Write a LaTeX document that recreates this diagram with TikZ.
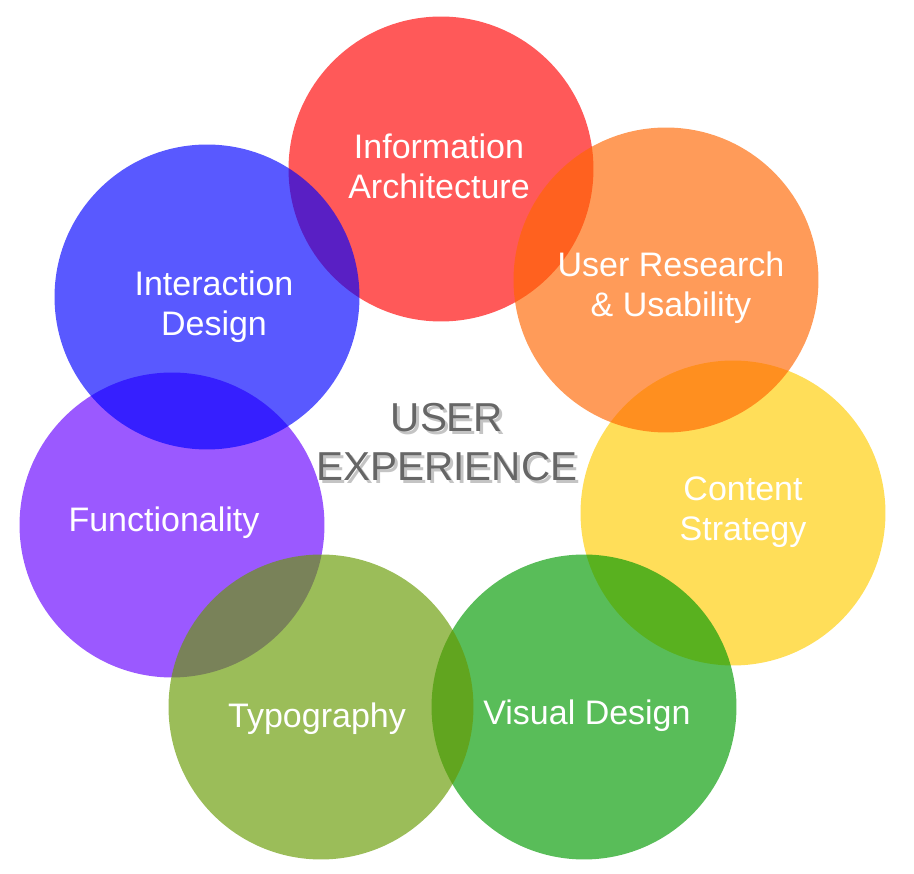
\documentclass[tikz,border=0pt]{standalone}
\usepackage{fontspec}
\setmainfont{Liberation Sans}

\definecolor{iacol}{HTML}{FF0000}
\definecolor{urcol}{HTML}{FF6600}
\definecolor{cscol}{HTML}{FFCC00}
\definecolor{vdcol}{HTML}{009900}
\definecolor{tycol}{HTML}{669900}
\definecolor{fucol}{HTML}{6600FF}
\definecolor{idcol}{HTML}{0000FF}
\definecolor{titlegray}{HTML}{666666}
\definecolor{shadowgray}{HTML}{C4C4C4}

\tikzset{
	bubble/.style={circle, minimum size=6.1cm, inner sep=0pt, fill opacity=0.65},
	caption/.style={text=white, align=center, inner sep=0pt, font=\fontsize{19.35}{22.8}\selectfont},
	headline/.style={align=center, inner sep=0pt, font=\fontsize{23}{27.9}\selectfont}
}

\begin{document}
\begin{tikzpicture}[x=0.02cm, y=-0.02cm]
\useasboundingbox (0,0) rectangle (914,874);

% circles, in stacking order
\foreach \name/\x/\y/\col in {ia/441/169/iacol, cs/733/513/cscol, ur/666/280/urcol, vd/584/707/vdcol, fu/172/525/fucol, ty/321/707/tycol, id/207/297/idcol} {
	\node[bubble, fill=\col] (\name) at (\x,\y) {};
}

% labels
\foreach \name/\x/\y/\txt in {ia/439/166/{Information\\Architecture}, ur/671/288/{User Research\\\& Usability}, cs/743/512/{Content\\Strategy}, vd/587/716/{Visual Design}, ty/317/719/{Typography}, fu/164/523/{Functionality}, id/214/307/{Interaction\\Design}} {
	\node[caption] (\name-label) at (\x,\y) {\txt};
}

\node[headline, text=shadowgray] (title-shadow) at (450,445.5) {USER\\EXPERIENCE};
\node[headline, text=titlegray] (title) at (447,442.5) {USER\\EXPERIENCE};
\end{tikzpicture}
\end{document}
